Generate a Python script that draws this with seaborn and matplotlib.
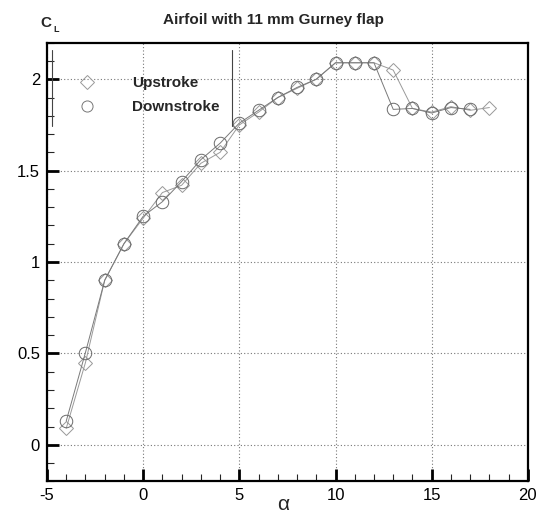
import matplotlib
matplotlib.use('Agg')
import matplotlib.pyplot as plt
import seaborn as sns
from matplotlib.lines import Line2D
from matplotlib.ticker import MultipleLocator

# lift coefficient vs angle of attack
up_alpha = [-4, -3, -2, -1, 0, 1, 2, 3, 4, 5, 6, 7, 8, 9, 10, 11, 12, 13, 14, 15, 16, 17, 18]
up_cl = [0.09, 0.45, 0.90, 1.10, 1.24, 1.38, 1.42, 1.54, 1.60, 1.75, 1.82, 1.90, 1.95, 2.00,
         2.09, 2.09, 2.09, 2.05, 1.84, 1.82, 1.85, 1.83, 1.845]
down_alpha = [17, 16, 15, 14, 13, 12, 11, 10, 9, 8, 7, 6, 5, 4, 3, 2, 1, 0, -1, -2, -3, -4]
down_cl = [1.835, 1.845, 1.815, 1.84, 1.835, 2.09, 2.09, 2.09, 2.00, 1.955, 1.90, 1.83, 1.76,
           1.65, 1.56, 1.44, 1.33, 1.25, 1.10, 0.90, 0.505, 0.13]

sns.set_style('white')
plt.rcParams['font.family'] = ['Liberation Sans', 'DejaVu Sans']
plt.rcParams['axes.unicode_minus'] = False

fig = plt.figure(figsize=(5.37, 5.19), dpi=100)
ax = fig.add_axes([0.0875, 0.0725, 0.8955, 0.8453])

sns.lineplot(x=up_alpha, y=up_cl, sort=False, estimator=None, ax=ax,
             color='#9a9a9a', lw=0.7, marker='D', markersize=7.5,
             markerfacecolor='none', markeredgecolor='#999999', markeredgewidth=0.7)
sns.lineplot(x=down_alpha, y=down_cl, sort=False, estimator=None, ax=ax,
             color='#7a7a7a', lw=0.7, marker='o', markersize=9,
             markerfacecolor='none', markeredgecolor='#6a6a6a', markeredgewidth=0.7)

ax.set_xlim(-5, 20)
ax.set_ylim(-0.2, 2.2)
ax.xaxis.set_major_locator(MultipleLocator(5))
ax.xaxis.set_minor_locator(MultipleLocator(1))
ax.yaxis.set_minor_locator(MultipleLocator(0.1))
ax.set_yticks([0, 0.5, 1, 1.5, 2])
ax.set_yticklabels(['0', '0.5', '1', '1.5', '2'])

ax.grid(True, which='major', linestyle=(0, (1, 2)), color='#777777', lw=0.8)
ax.tick_params(which='major', direction='in', length=8.5, width=2, labelsize=12, pad=5,
               bottom=True, left=True, colors='black')
ax.tick_params(which='minor', direction='in', length=5, width=0.8, bottom=True, left=True)
for s in ax.spines.values():
    s.set_linewidth(1.6)
    s.set_color('black')

# legend
handles = [Line2D([], [], ls='none', marker='D', markersize=7, markerfacecolor='none',
                  markeredgecolor='#999999', markeredgewidth=0.7),
           Line2D([], [], ls='none', marker='o', markersize=8, markerfacecolor='none',
                  markeredgecolor='#777777', markeredgewidth=0.7)]
ax.legend(handles, ['Upstroke', 'Downstroke'], loc='upper left',
          bbox_to_anchor=(0.038, 0.955), frameon=False, handlelength=1,
          handletextpad=2.5, labelspacing=0.65, prop={'weight': 'bold', 'size': 11})
ax.plot([0.0098, 0.0098], [0.809, 0.983], transform=ax.transAxes, color='#444444', lw=0.8)
ax.plot([0.384, 0.384], [0.809, 0.983], transform=ax.transAxes, color='#444444', lw=0.8)

fig.text(0.509, 0.962, 'Airfoil with 11 mm Gurney flap', ha='center', va='center',
         fontsize=11, fontweight='bold')
fig.text(0.076, 0.956, 'C', ha='left', va='center', fontsize=11, fontweight='bold')
fig.text(0.099, 0.943, 'L', ha='left', va='center', fontsize=6.5, fontweight='bold')
fig.text(0.527, 0.027, 'α', ha='center', va='center', fontsize=15)

fig.savefig('out.png', dpi=100)
